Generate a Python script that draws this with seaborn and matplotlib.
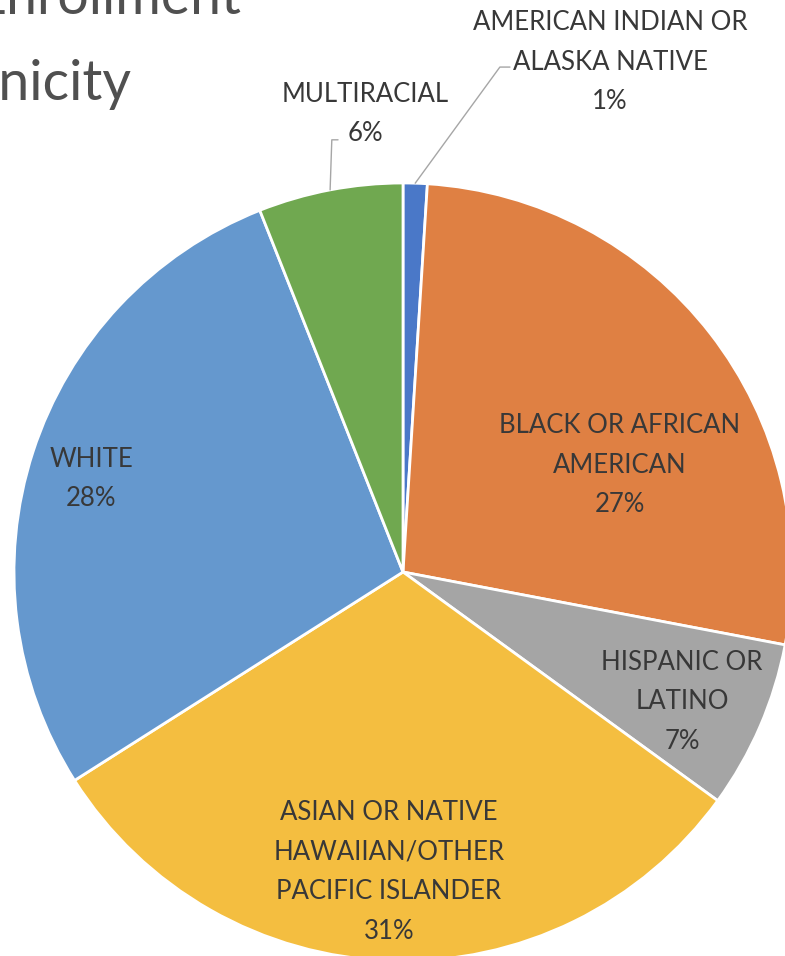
import numpy as np
import matplotlib
matplotlib.use("Agg")
import matplotlib.pyplot as plt
import seaborn as sns

# Enrollment share by race / ethnicity (percent)
groups = [
    "AMERICAN INDIAN OR\nALASKA NATIVE",
    "BLACK OR AFRICAN\nAMERICAN",
    "HISPANIC OR\nLATINO",
    "ASIAN OR NATIVE\nHAWAIIAN/OTHER\nPACIFIC ISLANDER",
    "WHITE",
    "MULTIRACIAL",
]
shares = [1, 27, 7, 31, 28, 6]
colors = ["#4A78C8", "#DF8043", "#A5A5A5", "#F4BE40", "#6598CE", "#70A850"]

# label layout (data units, pie radius = 1)
label_xy = [(0.532, 1.311), (0.558, 0.275), (0.717, -0.334),
            (-0.036, -0.771), (-0.802, 0.239), (-0.096, 1.177)]
# leader lines: elbow and end points, only for the small outer labels
leaders = {0: [(0.249, 1.298), (0.275, 1.298)],
           5: [(-0.183, 1.111), (-0.167, 1.111)]}

sns.set_theme(style="white")
plt.rcParams["font.family"] = ["Lato", "DejaVu Sans"]

fig = plt.figure(figsize=(7.85, 9.56), dpi=100)
ax = fig.add_axes([0, 0, 1, 1])

wedges, _ = ax.pie(shares, colors=colors, startangle=90, counterclock=False,
                   radius=1, wedgeprops=dict(edgecolor="white", linewidth=2))

for i, (w, name, val) in enumerate(zip(wedges, groups, shares)):
    x, y = label_xy[i]
    ax.text(x, y, f"{name}\n{val}%", ha="center", va="center",
            fontsize=18.5, color="#383838", linespacing=1.72)
    if i in leaders:
        mid = np.deg2rad((w.theta1 + w.theta2) / 2)
        pts = [(np.cos(mid), np.sin(mid))] + leaders[i]
        xs, ys = zip(*pts)
        ax.plot(xs, ys, color="#A6A6A6", linewidth=1, clip_on=False)

ax.set_xlim(-403 / 389, 382 / 389)
ax.set_ylim(-384 / 389, 572 / 389)
ax.set_aspect("auto")
ax.axis("off")

# title, cropped at the left edge like the source
fig.text(242 / 785, 1 - 14 / 956, "Enrollment", ha="right", va="baseline",
         fontsize=40, color="#505050")
fig.text(131 / 785, 1 - 100 / 956, "by Race/Ethnicity", ha="right", va="baseline",
         fontsize=40, color="#505050")

fig.savefig("out.png", dpi=100, facecolor="white")
